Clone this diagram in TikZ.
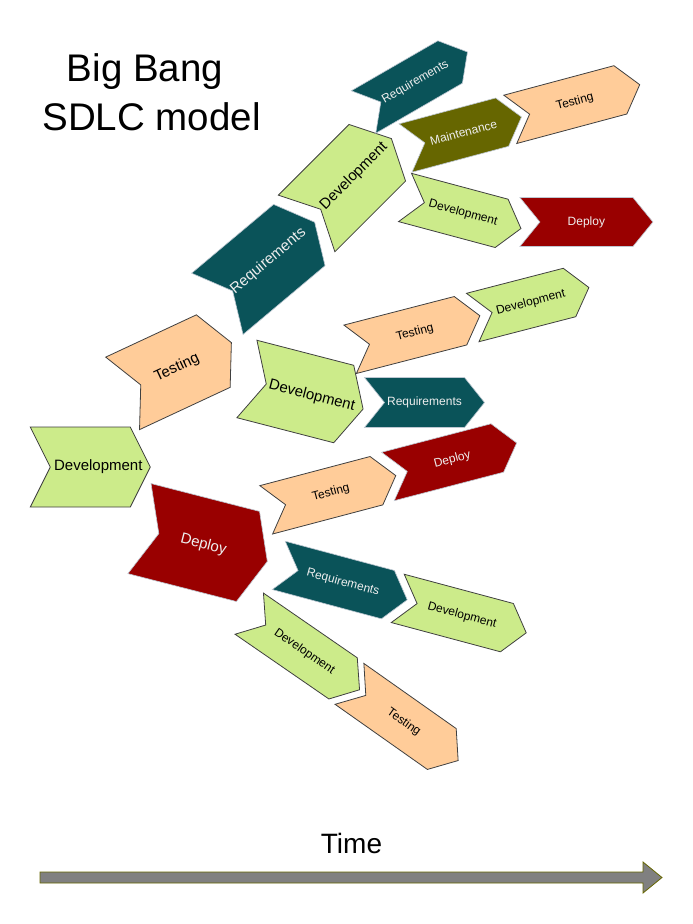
\documentclass[tikz,border=0pt]{standalone}
\usepackage{fontspec}
\setmainfont{Liberation Sans}
\definecolor{cgreen}{RGB}{204,235,138}
\definecolor{cpeach}{RGB}{255,204,153}
\definecolor{cteal}{RGB}{10,83,89}
\definecolor{cred}{RGB}{153,0,0}
\definecolor{colive}{RGB}{102,102,0}
\definecolor{cedge}{RGB}{64,64,64}
\definecolor{cdedge}{RGB}{190,200,210}
\definecolor{carrow}{RGB}{128,128,128}
\definecolor{cwtext}{RGB}{238,238,238}
\tikzset{
  gr/.style={fill=cgreen,draw=cedge,line width=0.8pt},
  pe/.style={fill=cpeach,draw=cedge,line width=0.8pt},
  te/.style={fill=cteal,draw=cdedge,line width=0.6pt},
  rd/.style={fill=cred,draw=cdedge,line width=0.6pt},
  ol/.style={fill=colive,draw=cdedge,line width=0.6pt},
  gr text/.style={text=black},
  pe text/.style={text=black},
  te text/.style={text=cwtext},
  rd text/.style={text=cwtext},
  ol text/.style={text=cwtext},
  lbl/.style={inner sep=0pt},
}
% #1 name, #2 cx, #3 cy, #4 angle, #5 w, #6 h, #7 style, #8 text offset, #9 text
\newcommand\chev[9]{%
  \begin{scope}[shift={(#2,#3)},rotate=#4]
    \draw[#7,line join=miter] (-#5/2,-#6/2) -- (#5/2-20,-#6/2) -- (#5/2,0)
      -- (#5/2-20,#6/2) -- (-#5/2,#6/2) -- (-#5/2+20,0) -- cycle;
    \ifdim #6pt>60pt
      \node[lbl,#7 text,rotate=#4,font=\fontsize{15}{18}\selectfont] (#1) at (#8,0) {#9};
    \else
      \node[lbl,#7 text,rotate=#4,font=\fontsize{12}{14}\selectfont] (#1) at (#8,0) {#9};
    \fi
  \end{scope}}
\begin{document}
\begin{tikzpicture}[x=1pt,y=-1pt]
\fill[white] (0,0) rectangle (693,924);
\useasboundingbox (0,0) rectangle (693,924);
% title
\node[anchor=base,inner sep=0pt,font=\fontsize{38.5}{46}\selectfont] (t1) at (145,81.5) {Big Bang};
\node[anchor=base,inner sep=0pt,font=\fontsize{38.5}{46}\selectfont] (t2) at (151.5,130.5) {SDLC model};
% chevrons
\chev{dev1}{90.3}{467}{0}{120}{80}{gr}{8}{Development}
\chev{test1}{177}{368}{25}{120}{80}{pe}{0}{Testing}
\chev{req1}{266}{263}{40}{127}{80}{te}{3}{Requirements}
\chev{dev2}{349}{181}{45}{120}{80}{gr}{7}{Development}
\chev{dev3}{305}{394}{-14.5}{120}{80}{gr}{7}{Development}
\chev{dep1}{203.4}{545}{-14.4}{132}{93}{rd}{0}{Deploy}
\chev{req2}{415.5}{82}{30}{120}{49}{te}{0}{Requirements}
\chev{mnt}{463.5}{132.5}{15}{120}{50}{ol}{0}{Maintenance}
\chev{test2}{575}{102}{15}{134}{50}{pe}{0}{Testing}
\chev{dev4}{463}{213}{-15}{120}{50}{gr}{0}{Development}
\chev{dep2}{586.4}{222}{0}{133}{49}{rd}{0}{Deploy}
\chev{test3}{415}{332.5}{14.5}{134}{50}{pe}{0}{Testing}
\chev{dev5}{530.8}{302.5}{14.5}{120}{50}{gr}{0}{Development}
\chev{req3}{424.5}{402.5}{0}{120}{50}{te}{0}{Requirements}
\chev{dep3}{452.3}{459.7}{14.6}{133}{50}{rd}{0}{Deploy}
\chev{test4}{331}{492.7}{14.8}{134}{50}{pe}{0}{Testing}
\chev{req4}{343}{582.6}{-15}{133}{50}{te}{0}{Requirements}
\chev{dev6}{462}{615.6}{-15}{133}{50}{gr}{0}{Development}
\chev{dev7}{304.4}{651.7}{-34.6}{134}{50}{gr}{0}{Development}
\chev{test5}{403.8}{722.2}{-35.2}{133}{50}{pe}{0}{Testing}
% time axis
\node[anchor=base,inner sep=0pt,font=\fontsize{28}{34}\selectfont] (time) at (351.5,853) {Time};
\coordinate (a0) at (40,877.5);
\coordinate (a1) at (662,877.5);
\draw[fill=carrow,draw=colive,line width=0.8pt,line join=miter]
  ([yshift=5.5pt]a0) -- (643,872) -- (643,862) -- (a1) -- (643,893) -- (643,883) -- ([yshift=-5.5pt]a0) -- cycle;
\end{tikzpicture}
\end{document}
